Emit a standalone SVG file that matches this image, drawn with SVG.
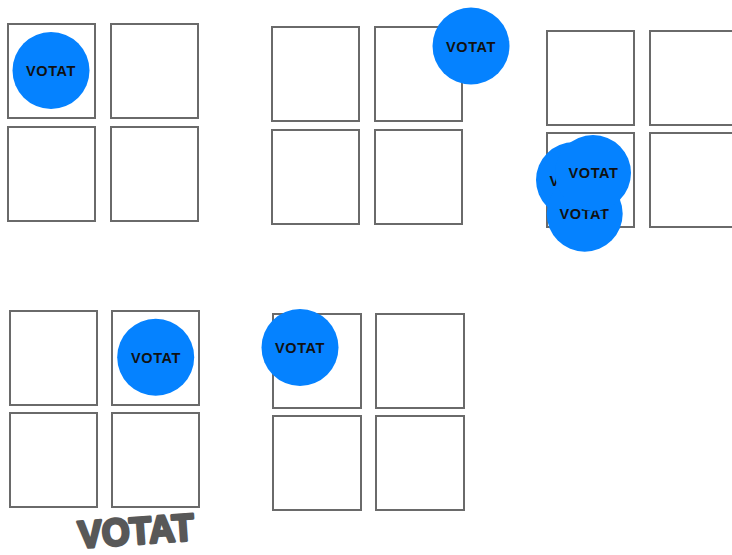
<svg xmlns="http://www.w3.org/2000/svg" width="732" height="555" viewBox="0 0 732 555">
<style>
  .box { fill: #ffffff; stroke: #6a6a6a; stroke-width: 2; }
  .dot { fill: #0582ff; }
  .lbl { font-family: "Liberation Sans", Arial, sans-serif; font-weight: 700; font-size: 14.5px; letter-spacing: 0.6px; fill: #111111; text-anchor: middle; dominant-baseline: central; }
  .hand { font-family: "Liberation Sans", Arial, sans-serif; font-weight: 700; font-size: 38px; fill: #585858; stroke: #585858; stroke-width: 3; stroke-linejoin: round; }
</style>
<rect width="732" height="555" fill="#ffffff"/>

<g id="grid1">
  <rect class="box" x="8" y="24" width="87" height="94"/>
  <rect class="box" x="111" y="24" width="87" height="94"/>
  <rect class="box" x="8" y="127" width="87" height="94"/>
  <rect class="box" x="111" y="127" width="87" height="94"/>
</g>
<g id="grid2">
  <rect class="box" x="272" y="27" width="87" height="94"/>
  <rect class="box" x="375" y="27" width="87" height="94"/>
  <rect class="box" x="272" y="130" width="87" height="94"/>
  <rect class="box" x="375" y="130" width="87" height="94"/>
</g>
<g id="grid3">
  <rect class="box" x="547" y="31" width="87" height="94"/>
  <rect class="box" x="650" y="31" width="87" height="94"/>
  <rect class="box" x="547" y="133" width="87" height="94"/>
  <rect class="box" x="650" y="133" width="87" height="94"/>
</g>
<g id="grid4">
  <rect class="box" x="10" y="311" width="87" height="94"/>
  <rect class="box" x="112" y="311" width="87" height="94"/>
  <rect class="box" x="10" y="413" width="87" height="94"/>
  <rect class="box" x="112" y="413" width="87" height="94"/>
</g>
<g id="grid5">
  <rect class="box" x="273" y="314" width="88" height="94"/>
  <rect class="box" x="376" y="314" width="88" height="94"/>
  <rect class="box" x="273" y="416" width="88" height="94"/>
  <rect class="box" x="376" y="416" width="88" height="94"/>
</g>

<g id="vote1">
  <circle class="dot" cx="51" cy="70.5" r="38.5"/>
  <text class="lbl" x="51" y="71">VOTAT</text>
</g>
<g id="vote2">
  <circle class="dot" cx="471" cy="46" r="38.5"/>
  <text class="lbl" x="471" y="46.5">VOTAT</text>
</g>
<g id="vote3a">
  <circle class="dot" cx="574" cy="180" r="38"/>
  <text class="lbl" x="574.5" y="181">VOTAT</text>
</g>
<g id="vote3c">
  <circle class="dot" cx="584.7" cy="213.7" r="38"/>
  <text class="lbl" x="584.5" y="214">VOTAT</text>
</g>
<g id="vote3b">
  <circle class="dot" cx="593" cy="173" r="38"/>
  <text class="lbl" x="593.5" y="173">VOTAT</text>
</g>
<g id="vote4">
  <circle class="dot" cx="155.7" cy="357.3" r="38.5"/>
  <text class="lbl" x="156" y="357.5">VOTAT</text>
</g>
<g id="vote5">
  <circle class="dot" cx="300" cy="347.5" r="38.5"/>
  <text class="lbl" x="300" y="348">VOTAT</text>
</g>

<g id="connectors"></g>

<g id="handwriting">
  <text class="hand" x="79" y="548" textLength="116" lengthAdjust="spacingAndGlyphs" transform="rotate(-4 79 548)">VOTAT</text>
</g>
</svg>
